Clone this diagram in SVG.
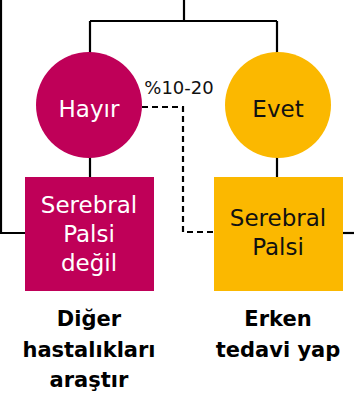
<svg xmlns="http://www.w3.org/2000/svg" width="354" height="401" viewBox="0 0 354 401">
  <style>
    .line { fill: none; stroke: #000; stroke-width: 2.2; }
    .dash { fill: none; stroke: #000; stroke-width: 2.2; stroke-dasharray: 6 4; }
    .no { fill: #BF0058; }
    .yes { fill: #FBB800; }
    text { font-family: "DejaVu Sans", "Liberation Sans", sans-serif; text-anchor: middle; }
    .lbl { font-size: 23px; }
    .light { fill: #fff; }
    .dark { fill: #111; }
    .pct { font-size: 18px; fill: #111; }
    .act { font-size: 21px; font-weight: bold; fill: #000; }
  </style>
  <rect width="354" height="401" fill="#fff"/>

  <g id="connectors">
    <path class="line" d="M184,0 V21 M90,21 H277 M90,21 V53 M277,21 V53"/>
    <path class="line" d="M90,157 V178 M277,157 V178"/>
    <path class="line" d="M1,0 V233 H26"/>
    <path class="line" d="M342,233 H354"/>
    <path class="dash" d="M142,107 H183 V232 H214"/>
    <text class="pct" x="179" y="94">%10-20</text>
  </g>

  <g id="hayir">
    <circle class="no" cx="89" cy="105" r="53"/>
    <text class="lbl light" x="89" y="117">Hayır</text>
  </g>

  <g id="evet">
    <circle class="yes" cx="278" cy="105" r="53"/>
    <text class="lbl dark" x="278" y="117">Evet</text>
  </g>

  <g id="sp-degil">
    <rect class="no" x="25" y="177" width="129" height="114"/>
    <text class="lbl light" x="89" y="213">Serebral</text>
    <text class="lbl light" x="89" y="242">Palsi</text>
    <text class="lbl light" x="89" y="271">değil</text>
  </g>

  <g id="sp">
    <rect class="yes" x="214" y="177" width="129" height="114"/>
    <text class="lbl dark" x="278" y="226">Serebral</text>
    <text class="lbl dark" x="278" y="255">Palsi</text>
  </g>

  <g id="arastir">
    <text class="act" x="89" y="326">Diğer</text>
    <text class="act" x="89" y="357">hastalıkları</text>
    <text class="act" x="89" y="387">araştır</text>
  </g>

  <g id="tedavi">
    <text class="act" x="278" y="326">Erken</text>
    <text class="act" x="278" y="357">tedavi yap</text>
  </g>
</svg>
